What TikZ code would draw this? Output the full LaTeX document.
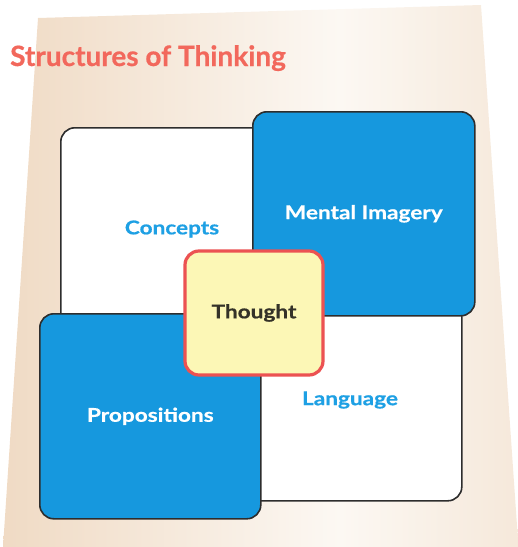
\documentclass[tikz,border=0pt]{standalone}
\usepackage{fontspec}
\setmainfont{Lato}
\newfontfamily\labelfont[FakeStretch=1.19,FakeBold=0.6]{Lato Bold}
\newfontfamily\headfont[FakeStretch=1.0,FakeBold=0.6]{Lato Bold}
\definecolor{paper}{RGB}{239,217,194}
\definecolor{glow}{RGB}{252,248,243}
\definecolor{boxblue}{RGB}{22,152,222}
\definecolor{textblue}{RGB}{30,160,228}
\definecolor{titlered}{RGB}{242,104,92}
\definecolor{thoughtfill}{RGB}{252,247,182}
\definecolor{thoughtedge}{RGB}{236,82,82}
\definecolor{edge}{RGB}{45,45,45}
\definecolor{darktext}{RGB}{52,50,40}
% a soft light band across the paper
\pgfdeclarehorizontalshading{sheen}{100bp}{color(0bp)=(paper); color(36bp)=(paper);
  color(50bp)=(glow); color(64bp)=(paper); color(100bp)=(paper)}
\begin{document}
\begin{tikzpicture}[x=1pt,y=-1pt,
  panel/.style={draw=edge,line width=1.6pt,rounded corners=14pt,anchor=north west,inner sep=0pt},
  whitepanel/.style={panel,fill=white},
  bluepanel/.style={panel,fill=boxblue,text=white,font=\labelfont\fontsize{19}{22}\selectfont},
  centerpanel/.style={draw=thoughtedge,line width=3.2pt,rounded corners=14pt,fill=thoughtfill,
    text=darktext,font=\labelfont\fontsize{19}{22}\selectfont,inner sep=0pt},
  bluelabel/.style={text=textblue,font=\labelfont\fontsize{19}{22}\selectfont}]
\useasboundingbox (0,0) rectangle (518,547);
% paper backdrop
\begin{scope}
  \clip (38,18) -- (481,5) -- (518,540) -- (518,547) -- (3,547) -- cycle;
  \shade[shading=sheen,rotate around={12:(340,280)}] (-160,-400) rectangle (840,960);
\end{scope}
% title
\node[anchor=base west,text=titlered,font=\headfont\fontsize{28}{32}\selectfont,inner sep=0pt] (title) at (10,66) {Structures of Thinking};
% white panels in the back
\node[whitepanel,minimum width=240pt,minimum height=213pt] (concepts) at (60,127) {};
\node[whitepanel,minimum width=246pt,minimum height=210pt] (language) at (215,290) {};
\node[bluelabel] (conceptslabel) at (172,229) {Concepts};
\node[bluelabel] (languagelabel) at (350,400) {Language};
% blue panels on top
\node[bluepanel,minimum width=222pt,minimum height=204pt] (imagery) at (252,111) {Mental Imagery};
\node[bluepanel,minimum width=221pt,minimum height=205pt] (propositions) at (39,313) {Propositions};
% centre
\node[centerpanel,minimum width=138pt,minimum height=124pt] (thought) at (254,313) {Thought};
\end{tikzpicture}
\end{document}
